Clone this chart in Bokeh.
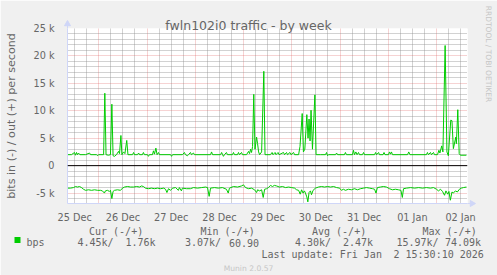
from math import pi
from bokeh.plotting import figure
from bokeh.models import Range1d, FixedTicker, Span
from bokeh.core.properties import value
from bokeh.embed import file_html
from bokeh.resources import INLINE

# ---------------- data ----------------
title_text = "fwln102i0 traffic - by week"
y_axis_text = "bits in (-) / out (+) per second"

# x in hours since 25 Dec 00:00
x_tick_hours = [12, 36, 60, 84, 108, 132, 156, 180, 204]
x_tick_labels = ["25 Dec", "26 Dec", "27 Dec", "28 Dec", "29 Dec",
                 "30 Dec", "31 Dec", "01 Jan", "02 Jan"]
y_tick_values = [-5000, 0, 5000, 10000, 15000, 20000, 25000]
y_tick_labels = ["-5 k", "0", "5 k", "10 k", "15 k", "20 k", "25 k"]

# out (+) traffic, kbit/s
out_hours = [8.4, 10.4, 11.9, 12.4, 12.9, 13.4, 13.9, 14.6, 17.4, 19.4, 19.9, 22.9, 23.4, 23.9,
             26.4, 27.0, 27.6, 28.8, 29.8, 30.5, 31.1, 31.8, 32.8, 33.8, 34.3, 35.0, 35.5, 36.3,
             37.0, 37.9, 38.5, 40.8, 41.3, 41.8, 43.3, 43.8, 44.3, 45.7, 46.2, 46.7, 48.2, 48.7,
             49.2, 50.7, 51.2, 51.7, 52.4, 53.0, 53.7, 54.2, 59.7, 60.2, 60.7, 65.6, 66.6, 67.1,
             68.1, 68.6, 69.6, 70.1, 71.1, 71.6, 79.6, 80.1, 80.6, 84.6, 85.1, 85.6, 86.0, 86.5,
             87.5, 88.0, 90.5, 91.0, 91.5, 93.0, 93.5, 94.0, 95.0, 95.5, 97.5, 98.5, 99.0, 99.5,
             100.0, 100.5, 101.1, 101.7, 102.5, 103.0, 103.5, 104.0, 105.0, 106.1, 106.7, 109.4,
             110.2, 110.7, 111.7, 112.2, 113.2, 113.7, 115.9, 116.4, 117.4, 117.9, 119.1, 119.6,
             120.9, 121.4, 123.4, 124.1, 125.2, 125.8, 126.5, 127.5, 128.1, 128.6, 129.1, 129.6,
             130.3, 131.5, 132.1, 134.3, 136.8, 137.3, 137.8, 138.3, 141.8, 142.3, 142.8, 146.2,
             146.7, 147.2, 150.2, 150.7, 151.2, 151.9, 152.5, 153.2, 153.7, 155.2, 155.7, 156.2,
             161.2, 161.7, 162.2, 163.2, 163.6, 165.4, 165.9, 166.4, 168.1, 168.6, 169.1, 169.6,
             170.1, 177.6, 178.2, 178.8, 187.0, 187.5, 188.0, 189.0, 189.5, 190.5, 191.0, 192.5,
             193.2, 193.7, 194.6, 195.2, 196.3, 197.2, 197.9, 199.1, 199.7, 200.4, 201.6, 201.9,
             202.6, 203.3, 203.9, 206.9]
out_kbps = [2.0, 2.0, 2.4, 1.9, 2.4, 2.0, 2.3, 2.0, 2.0, 2.3, 2.0, 2.0, 1.8, 2.0,
            2.0, 13.2, 2.0, 1.9, 2.0, 11.2, 1.8, 1.7, 2.0, 2.6, 2.2, 5.5, 2.0, 2.5,
            2.2, 4.6, 2.0, 2.0, 2.4, 2.0, 2.0, 2.3, 2.0, 2.0, 2.4, 2.0, 2.0, 1.7,
            2.0, 2.0, 2.7, 2.1, 3.2, 2.0, 2.4, 2.0, 2.0, 1.7, 2.0, 2.0, 2.4, 2.0,
            1.8, 2.0, 2.4, 2.0, 2.3, 2.0, 2.0, 2.5, 2.0, 2.0, 2.4, 2.0, 1.7, 2.0,
            2.4, 2.0, 2.0, 2.4, 2.0, 2.0, 2.4, 2.0, 2.4, 2.0, 2.0, 2.6, 2.2, 3.0,
            2.4, 3.5, 13.0, 3.0, 5.2, 4.0, 2.5, 2.0, 2.5, 17.2, 2.0, 2.0,
            2.4, 2.0, 2.4, 2.0, 2.4, 2.0, 2.4, 2.0, 2.4, 2.0, 2.4, 2.0,
            2.4, 2.0, 2.0, 3.5, 9.5, 2.5, 3.0, 9.3, 5.0, 8.5, 4.5, 10.1,
            3.0, 12.9, 2.0, 2.0, 2.0, 2.4, 1.8, 2.0, 2.0, 2.3, 2.0, 2.0,
            2.4, 2.0, 2.0, 2.8, 2.0, 2.5, 2.0, 2.4, 2.0, 2.0, 2.4, 2.0,
            2.0, 2.4, 2.0, 2.4, 2.0, 2.0, 2.4, 2.0, 2.0, 2.5, 2.1, 2.5,
            2.0, 2.0, 2.5, 2.0, 2.0, 2.4, 2.0, 2.4, 2.0, 2.4, 2.0, 2.0,
            2.8, 2.3, 3.6, 2.5, 21.9, 2.5, 1.8, 8.3, 8.2, 3.1, 5.2, 4.0,
            10.2, 2.2, 1.9, 1.9]

# in (-) traffic, kbit/s (drawn below zero)
in_hours = [8.4, 9.9, 11.4, 12.4, 13.4, 14.4, 15.4, 16.4, 17.4, 18.9, 20.4, 21.9, 23.4, 24.9,
            25.8, 26.8, 27.3, 28.3, 29.3, 29.8, 30.5, 31.1, 31.8, 33.3, 34.8, 35.8, 36.8, 38.3,
            39.8, 41.3, 42.8, 44.3, 45.2, 46.2, 47.2, 48.7, 50.2, 51.7, 53.2, 54.7, 56.3, 57.2,
            57.9, 58.7, 59.7, 60.7, 62.2, 63.6, 64.1, 65.1, 65.6, 67.6, 69.6, 71.1, 73.1, 75.1,
            77.1, 78.1, 78.9, 79.6, 81.6, 83.5, 85.5, 87.5, 88.4, 89.0, 91.0, 93.0, 95.0, 96.0,
            97.0, 98.5, 100.0, 101.5, 102.5, 103.0, 104.0, 105.0, 105.8, 106.5, 107.5, 108.4,
            109.4, 110.4, 111.4, 112.4, 113.9, 115.4, 116.9, 118.4, 119.9, 121.4, 122.4, 123.4,
            124.2, 124.9, 125.6, 126.3, 126.8, 127.5, 128.0, 128.6, 129.3, 129.8, 130.6, 131.8,
            133.3, 134.8, 136.3, 137.8, 139.3, 140.8, 142.3, 143.8, 144.7, 145.7, 146.7, 148.2,
            149.7, 151.2, 152.7, 154.2, 155.7, 157.2, 158.7, 160.2, 161.2, 161.9, 162.6, 164.1,
            165.6, 167.1, 168.6, 170.1, 171.6, 173.1, 174.3, 175.0, 175.6, 177.1, 179.1, 181.1,
            183.1, 185.1, 187.0, 189.0, 190.5, 192.0, 193.0, 194.0, 195.0, 196.0, 196.7, 197.6,
            198.2, 198.9, 199.7, 200.4, 201.4, 202.4, 203.4, 204.4, 205.4, 206.9]
in_kbps = [4.1, 4.1, 4.0, 3.8, 3.9, 3.8, 4.0, 4.3, 4.5, 4.4, 4.5, 4.4, 4.5, 4.5,
           4.6, 5.0, 4.6, 4.5, 4.7, 4.5, 6.0, 4.7, 4.5, 4.4, 4.5, 4.1, 3.9, 3.8,
           3.9, 3.9, 3.8, 3.9, 3.7, 3.8, 4.1, 4.2, 4.1, 4.2, 4.1, 4.2, 4.1, 4.3,
           4.9, 4.2, 4.5, 4.1, 4.0, 4.5, 4.0, 4.6, 4.1, 4.2, 4.2, 4.0, 4.1, 4.0,
           3.9, 4.0, 5.6, 4.1, 4.0, 4.1, 4.0, 4.3, 5.0, 4.1, 3.8, 3.9, 3.7, 3.5,
           4.0, 4.2, 4.1, 4.4, 4.9, 4.4, 4.6, 4.4, 5.8, 4.3, 4.2, 4.0,
           3.6, 3.8, 3.6, 3.7, 3.9, 3.8, 4.0, 3.9, 4.0, 4.1, 4.4, 4.5,
           5.2, 4.4, 5.0, 4.6, 5.0, 5.7, 6.6, 4.9, 4.6, 5.3, 4.5, 4.1,
           3.9, 3.8, 3.9, 3.8, 3.9, 3.8, 4.0, 4.1, 4.5, 4.3, 4.5, 4.3,
           4.4, 4.2, 4.4, 4.2, 4.1, 4.0, 4.1, 4.2, 4.3, 5.0, 4.0, 3.9,
           3.8, 3.9, 4.2, 4.4, 4.3, 4.4, 4.5, 5.8, 4.2, 4.1, 4.0, 4.1,
           4.0, 4.1, 4.0, 4.1, 4.0, 4.3, 4.6, 4.3, 4.7, 5.4, 4.6, 5.2,
           4.7, 6.3, 4.8, 5.0, 4.6, 4.8, 4.3, 4.1, 4.0, 3.9]

legend_name = "bps"
legend_headers = ["Cur (-/+)", "Min (-/+)", "Avg (-/+)", "Max (-/+)"]
legend_in = ["4.45k/", "3.07k/", "4.30k/", "15.97k/"]
legend_out = ["1.76k", "60.90", "2.47k", "74.09k"]
last_update_a = "Last update: Fri Jan"
last_update_b = "2 15:30:10 2026"
watermark_text = "Munin 2.0.57"
side_text = "RRDTOOL / TOBI OETIKER"

# ---------------- layout / style ----------------
W, H = 497, 275
FL, FR, FT, FB = 67, 467, 28, 203
X0, X1 = 8.43, 207.43
Y0, Y1 = -6900, 25000
GREEN = "#00CC00"
FONT_C = "#666666"
AXIS_C = "#CFD6F8"
WM_C = "#C6C6C6"

p = figure(width=W, height=H, x_range=Range1d(X0, X1), y_range=Range1d(Y0, Y1),
           output_backend="svg", toolbar_location=None,
           min_border_left=FL, min_border_right=W - FR,
           min_border_top=FT, min_border_bottom=H - FB,
           border_fill_color="#F0F0F0", background_fill_color="#FFFFFF",
           outline_line_color=None)

# axes
p.xaxis.ticker = FixedTicker(ticks=x_tick_hours)
p.xaxis.major_label_overrides = {h: l for h, l in zip(x_tick_hours, x_tick_labels)}
p.yaxis.ticker = FixedTicker(ticks=y_tick_values)
p.yaxis.major_label_overrides = {v: l for v, l in zip(y_tick_values, y_tick_labels)}
for ax in (p.xaxis[0], p.yaxis[0]):
    ax.axis_line_color = AXIS_C
    ax.axis_line_width = 1
    ax.major_tick_line_color = None
    ax.minor_tick_line_color = None
    ax.major_label_text_color = FONT_C
    ax.major_label_text_font = "DejaVu Sans"
    ax.major_label_text_font_size = "9.7px"
p.xaxis.major_label_standoff = 2
p.yaxis.major_label_standoff = 7

# grids
midnights = [24 * d for d in range(1, 9)]
six_hourly = [h for h in range(12, 208, 6) if h % 24 != 0]
y_minor = [v for v in range(-6000, 25000, 1000) if v % 5000 != 0]
p.xgrid.ticker = FixedTicker(ticks=midnights, minor_ticks=six_hourly)
p.ygrid.ticker = FixedTicker(ticks=y_tick_values, minor_ticks=y_minor)
for g in (p.xgrid[0], p.ygrid[0]):
    g.grid_line_color = "#DE4F4F"
    g.grid_line_alpha = 0.5
    g.grid_line_dash = "1 1"
    g.minor_grid_line_color = "#8F8F8F"
    g.minor_grid_line_alpha = 0.8
    g.minor_grid_line_dash = "1 1"

# zero line
p.add_layout(Span(location=0, dimension="width", line_color="#000000", line_width=1))

# series
p.line(out_hours, [v * 1000 for v in out_kbps], line_color=GREEN, line_width=1)
p.line(in_hours, [-v * 1000 for v in in_kbps], line_color=GREEN, line_width=1)

# helpers: canvas pixel -> data coordinates (for items placed outside the plot area)
ppx = (X1 - X0) / (FR - FL)
ppy = (Y1 - Y0) / (FB - FT)


def dx(X):
    return X0 + (X - FL) * ppx


def dy(Y):
    return Y1 - (Y - FT) * ppy


# axis arrows (drawn at overlay level so they are not clipped)
p.segment(x0=[X1], y0=[Y0], x1=[dx(471)], y1=[Y0], line_color=AXIS_C, line_width=1, level="overlay")
p.segment(x0=[X0], y0=[Y1], x1=[X0], y1=[dy(24)], line_color=AXIS_C, line_width=1, level="overlay")
p.scatter(x=[dx(471.5)], y=[Y0], marker="triangle", size=6, angle=-pi / 2,
          fill_color=AXIS_C, line_color=AXIS_C, level="overlay")
p.scatter(x=[X0], y=[dy(23.5)], marker="triangle", size=6,
          fill_color=AXIS_C, line_color=AXIS_C, level="overlay")


def add_text(txt, X, Y, size, color=FONT_C, font="DejaVu Sans", align="left",
             baseline="alphabetic", angle=0.0):
    p.text(x=[dx(X)], y=[dy(Y)], text=[txt], text_font=value(font),
           text_font_size=value(f"{size}px"), text_color=color, text_align=align,
           text_baseline=baseline, angle=angle, level="overlay")


add_text(title_text, 248, 25, 12.5, align="center")
add_text(y_axis_text, 11, 115.5, 11.1, align="center", baseline="middle", angle=pi / 2)
add_text(side_text, 488, 53.5, 7.5, color=WM_C, align="center", baseline="middle", angle=-pi / 2)
add_text(watermark_text, 248, 267.7, 7.6, color=WM_C, align="center")

MONO = "DejaVu Sans Mono"
for txt, X in zip(legend_headers, [88.5, 200, 311.5, 422]):
    add_text(txt, X, 230.5, 10, font=MONO)
add_text(legend_name, 26, 242.3, 10, font=MONO)
for txt, X in zip(legend_in, [77, 184.5, 294.5, 396]):
    add_text(txt, X, 242.3, 10, font=MONO)
for txt, X in zip(legend_out, [125, 228.5, 342.5, 444.5]):
    add_text(txt, X, 242.3, 10, font=MONO)
add_text(last_update_a, 261, 253.7, 10, font=MONO)
add_text(last_update_b, 393, 253.7, 10, font=MONO)

# legend swatch
p.quad(left=[dx(14)], right=[dx(20)], top=[dy(236.5)], bottom=[dy(242.5)],
       fill_color=GREEN, line_color=None, level="overlay")

open("out.html", "w").write(file_html(p, INLINE))
